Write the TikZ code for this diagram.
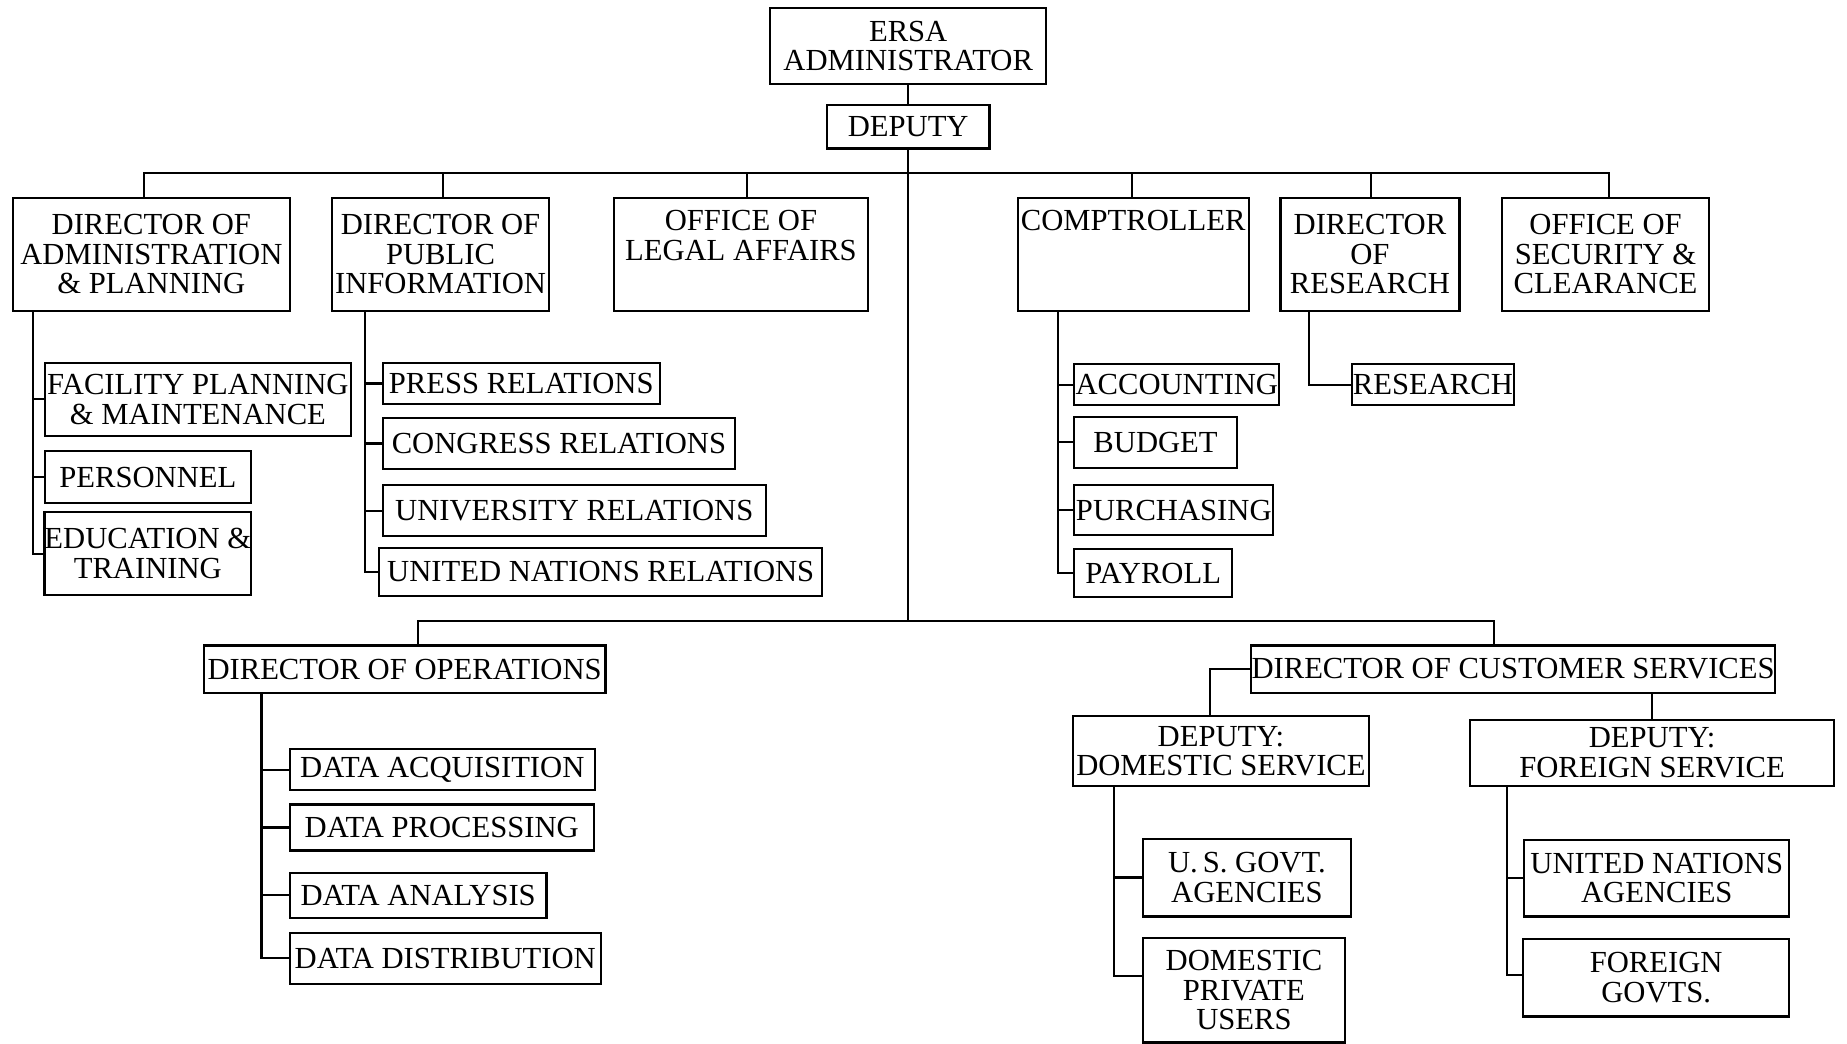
\documentclass[tikz,border=0pt]{standalone}
\usepackage{fontspec}
\setmainfont{Liberation Serif}
\usetikzlibrary{calc}
\tikzset{
  obx/.style={draw, line width=1.1pt, rectangle, inner sep=0pt, outer sep=0pt,
    align=center, font=\fontsize{15.6}{15}\selectfont},
  link/.style={line width=1.1pt, line cap=rect},
}
% \obox{name}{left}{top}{right}{bottom}{text}
\newcommand\obox[6]{\node[obx, minimum width={(#4-#2)*0.6pt},
  minimum height={(#5-#3)*0.6pt}] (#1) at ({(#2+#4)/2},{(#3+#5)/2}) {#6};}
% \branch{start coordinate}{last tick point}{other children}
\newcommand\branch[3]{%
  \draw[link] (#1) |- (#2);
  \foreach \c in {#3} \draw[link] (#1 |- \c.west) -- (\c.west);}
\begin{document}
\begin{tikzpicture}[x=0.6pt, y=-0.6pt]
\useasboundingbox (0,0) rectangle (1568,886);

% top of the organisation
\obox{adm}{654}{7}{888}{71}{ERSA\\ADMINISTRATOR}
\obox{dep}{702}{89}{840}{126}{DEPUTY}

% first row of offices
\obox{dap}{11}{168}{246}{264}{DIRECTOR OF\\ADMINISTRATION\\\& PLANNING}
\obox{dpi}{282}{168}{466}{264}{DIRECTOR OF\\PUBLIC\\INFORMATION}
\obox{ola}{521}{168}{737}{264}{OFFICE OF\\LEGAL AFFAIRS\\\strut}
\obox{cmp}{864}{168}{1060}{264}{COMPTROLLER\\\strut\\\strut}
\obox{dr}{1087}{168}{1239}{264}{DIRECTOR\\OF\\RESEARCH}
\obox{sec}{1275}{168}{1451}{264}{OFFICE OF\\SECURITY \&\\CLEARANCE}

% administration & planning units
\obox{fac}{38}{308}{298}{370}{FACILITY PLANNING\\\& MAINTENANCE}
\obox{per}{38}{383}{213}{427}{PERSONNEL}
\obox{edu}{38}{435}{213}{505}{EDUCATION \&\\TRAINING}

% public information units
\obox{prs}{325}{308}{560}{343}{PRESS RELATIONS}
\obox{cgr}{325}{355}{624}{398}{CONGRESS RELATIONS}
\obox{uni}{325}{412}{650}{455}{UNIVERSITY RELATIONS}
\obox{unr}{322}{465}{698}{506}{UNITED NATIONS RELATIONS}

% comptroller units
\obox{acc}{912}{309}{1086}{344}{ACCOUNTING}
\obox{bud}{912}{354}{1050}{397}{BUDGET}
\obox{pur}{912}{412}{1081}{454}{PURCHASING}
\obox{pay}{912}{466}{1046}{507}{PAYROLL}

% research unit
\obox{res}{1148}{309}{1285}{344}{RESEARCH}

% second row of directors
\obox{ops}{173}{548}{514}{588}{DIRECTOR OF OPERATIONS}
\obox{dcs}{1062}{548}{1507}{588}{DIRECTOR OF CUSTOMER SERVICES}

% operations units
\obox{acq}{246}{636}{505}{671}{DATA ACQUISITION}
\obox{prc}{246}{683}{504}{722}{DATA PROCESSING}
\obox{ana}{246}{741}{464}{779}{DATA ANALYSIS}
\obox{dis}{246}{792}{510}{835}{DATA DISTRIBUTION}

% customer services
\obox{dds}{911}{608}{1162}{667}{DEPUTY:\\DOMESTIC SERVICE}
\obox{dfs}{1248}{611}{1557}{667}{DEPUTY:\\FOREIGN SERVICE}
\obox{usg}{970}{712}{1147}{778}{U.\,S. GOVT.\\AGENCIES}
\obox{dpu}{970}{796}{1142}{885}{DOMESTIC\\PRIVATE\\USERS}
\obox{una}{1294}{713}{1519}{778}{UNITED NATIONS\\AGENCIES}
\obox{fgv}{1293}{797}{1519}{863}{FOREIGN\\GOVTS.}

% trunk and buses
\coordinate (bus) at (771,147);
\coordinate (lowbus) at (771,527);
\draw[link] (adm.south) -- (adm.south |- dep.north);
\draw[link] (adm.south |- dep.south) -- (lowbus);
\coordinate (s1) at ($(dap.north)+(-6.5,0)$);
\coordinate (s2) at ($(dpi.north)+(2,0)$);
\coordinate (s3) at ($(ola.north)+(5,0)$);
\coordinate (s4) at ($(cmp.north)+(-1,0)$);
\coordinate (s5) at ($(dr.north)+(1,0)$);
\coordinate (s6) at ($(sec.north)+(3,0)$);
\draw[link] (s1) |- (bus) -| (s6);
\foreach \s in {s2,s3,s4,s5} \draw[link] (\s) -- (\s |- bus);
\coordinate (t1) at ($(ops.north)+(11.5,0)$);
\coordinate (t2) at ($(dcs.north)+(-16.5,0)$);
\draw[link] (t1) |- (lowbus) -| (t2);

% branches below the offices
\coordinate (ba) at ($(dap.south west)+(17,0)$);
\coordinate (bp) at ($(dpi.south west)+(28,0)$);
\coordinate (bc) at ($(cmp.south west)+(34,0)$);
\coordinate (bo) at ($(ops.south west)+(49,0)$);
\branch{ba}{edu.west}{fac,per}
\branch{bp}{unr.west}{prs,cgr,uni}
\branch{bc}{pay.west}{acc,bud,pur}
\draw[link] ($(dr.south west)+(24,0)$) |- (res.west);
\branch{bo}{dis.west}{acq,prc,ana}

% customer services branches
\draw[link] (dcs.west) -| ($(dds.north)+(-9.5,0)$);
\draw[link] (dfs.north) -- (dfs.north |- dcs.south);
\coordinate (bd) at ($(dds.south west)+(35,0)$);
\coordinate (bf) at ($(dfs.south west)+(31,0)$);
\coordinate (pu) at ($(dpu.west)+(0,-12)$);
\coordinate (fg) at ($(fgv.west)+(0,-2)$);
\branch{bd}{pu}{usg}
\branch{bf}{fg}{una}
\end{tikzpicture}
\end{document}
